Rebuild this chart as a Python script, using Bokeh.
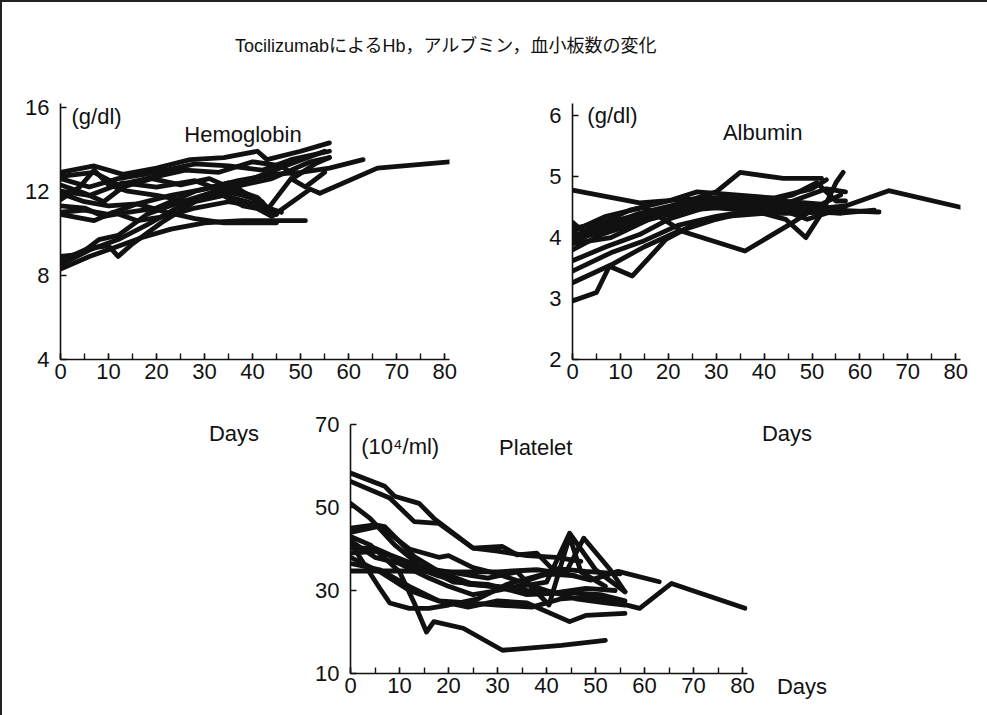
from bokeh.plotting import figure
from bokeh.models import Div, Label, Range1d, SingleIntervalTicker, FixedTicker
from bokeh.layouts import column, row
from bokeh.embed import file_html
from bokeh.resources import INLINE

TITLE = "TocilizumabによるHb，アルブミン，血小板数の変化"
X_NAME = "Days"

# ---------------- Hemoglobin (g/dl) ----------------
hb_days = [
    [0, 7, 11, 16, 22, 28, 35, 40, 44, 52, 54, 66, 81],
    [0, 7, 13, 20, 27, 34, 41, 43, 50, 56],
    [0, 6, 12, 20, 28, 35, 42, 48, 56],
    [0, 5, 10, 16, 23, 30, 37, 44, 50, 56, 63],
    [0, 6, 12, 18, 25, 32, 40, 48, 55],
    [0, 6, 11, 17, 23, 30, 38, 45, 51],
    [0, 4, 8, 12, 18, 24, 31, 38, 44, 52, 56],
    [0, 6, 10, 12, 15, 21, 28, 34, 42, 46],
    [0, 4, 7, 10, 14, 20, 27, 33, 38, 43, 48, 51, 55],
    [0, 5, 9, 13, 19, 25, 31, 36, 41, 44],
    [0, 5, 9, 14, 20, 28, 35, 40, 45],
    [0, 6, 13, 20, 28, 34, 38, 42],
    [0, 7, 12, 18, 26, 33, 40, 46, 49, 53, 56],
    [0, 5, 10, 16, 22, 28, 34, 40, 45],
]
hb_values = [
    [10.9, 10.6, 11.0, 10.6, 10.8, 11.2, 11.5, 11.3, 10.8, 12.1, 11.9, 13.1, 13.4],
    [12.9, 13.2, 12.8, 13.1, 13.5, 13.6, 13.9, 13.5, 13.9, 14.3],
    [12.6, 12.2, 12.6, 12.9, 13.3, 13.2, 13.0, 13.5, 13.9],
    [11.9, 11.5, 11.3, 11.4, 11.8, 12.1, 12.5, 12.8, 12.9, 13.1, 13.5],
    [8.5, 9.2, 9.7, 10.4, 11.3, 12.0, 12.6, 13.3, 13.9],
    [8.3, 8.9, 9.3, 9.8, 10.2, 10.5, 10.6, 10.6, 10.6],
    [8.9, 9.0, 9.7, 9.9, 10.9, 11.4, 11.9, 12.3, 12.6, 13.4, 13.6],
    [8.7, 9.3, 9.4, 8.9, 9.5, 10.5, 11.5, 11.8, 11.3, 11.0],
    [11.6, 12.2, 13.0, 12.3, 12.0, 11.8, 11.5, 11.9, 11.3, 11.1, 12.6, 12.2, 12.9],
    [12.3, 11.9, 11.5, 12.2, 12.6, 12.3, 12.6, 12.1, 11.7, 11.0],
    [11.3, 11.2, 10.8, 11.0, 11.2, 12.0, 12.4, 11.7, 10.9],
    [12.0, 11.8, 12.4, 12.2, 12.5, 12.0, 11.8, 11.5],
    [12.7, 12.9, 12.3, 12.6, 13.0, 12.9, 13.4, 13.2, 12.7, 13.3, 13.6],
    [11.0, 11.1, 10.9, 11.4, 11.0, 10.7, 10.5, 10.5, 10.5],
]
hb_yticks = [4, 8, 12, 16]

# ---------------- Albumin (g/dl) ----------------
alb_days = [
    [0, 14, 22, 30, 38, 46, 53],
    [0, 8, 16, 24, 32, 40, 48, 57, 66, 82],
    [0, 7, 14, 22, 30, 35, 44, 52],
    [0, 7, 15, 23, 36, 45, 50, 55],
    [0, 3, 10, 18, 26, 35, 44.5, 48.7, 52, 55, 56.5],
    [0, 5, 7.7, 12.5, 19.5, 25, 32, 40, 48, 57],
    [0, 8, 15, 22, 30, 38, 46, 53, 57],
    [0, 8, 15, 22, 30, 38, 46, 54, 64],
    [0, 7, 14, 20, 28, 36, 44, 52, 56],
    [0, 5, 12, 20, 26, 34, 42, 50, 53],
    [0, 6, 12, 20, 28, 36, 44, 50, 56],
    [0, 6, 12, 20, 28, 36, 44, 49, 55],
    [0, 7, 14, 22, 30, 38, 46, 51, 55, 57],
    [0, 8, 16, 24, 32, 40, 48, 56, 63],
]
alb_values = [
    [4.78, 4.57, 4.62, 4.65, 4.62, 4.55, 4.50],
    [3.95, 4.15, 4.35, 4.50, 4.55, 4.50, 4.45, 4.52, 4.77, 4.48],
    [3.90, 4.20, 4.40, 4.55, 4.75, 5.07, 4.97, 4.97],
    [4.10, 4.35, 4.50, 4.10, 3.78, 4.20, 4.45, 4.50],
    [4.25, 4.05, 4.30, 4.45, 4.60, 4.50, 4.30, 4.00, 4.40, 4.90, 5.07],
    [2.96, 3.10, 3.53, 3.37, 3.97, 4.20, 4.35, 4.40, 4.40, 4.45],
    [3.26, 3.55, 3.85, 4.10, 4.30, 4.45, 4.60, 4.80, 4.75],
    [3.45, 3.75, 3.95, 4.20, 4.35, 4.45, 4.50, 4.45, 4.42],
    [3.62, 3.85, 4.05, 4.30, 4.50, 4.60, 4.60, 4.55, 4.70],
    [4.00, 4.20, 4.45, 4.60, 4.75, 4.70, 4.65, 4.80, 4.95],
    [4.05, 4.10, 4.30, 4.45, 4.50, 4.45, 4.40, 4.42, 4.40],
    [3.80, 4.05, 4.20, 4.40, 4.55, 4.50, 4.45, 4.30, 4.45],
    [4.15, 4.25, 4.35, 4.50, 4.60, 4.55, 4.70, 4.90, 4.60, 4.60],
    [3.90, 4.00, 4.30, 4.45, 4.50, 4.55, 4.45, 4.40, 4.45],
]
alb_yticks = [2, 3, 4, 5, 6]

# ---------------- Platelet (10^4/ml) ----------------
plt_days = [
    [0, 7, 9, 14, 17, 25, 31, 34, 38, 41, 48, 55],
    [0, 8, 13, 18, 25, 30, 36, 42, 47],
    [0, 4, 9, 14, 21, 28, 36, 45, 51, 56],
    [0, 5, 7, 13, 18, 25, 32, 40, 44.7, 50, 56],
    [0, 5, 8, 15, 20, 28, 34, 40.5, 44.7, 47, 52],
    [0, 6, 8, 12, 16, 20, 26, 32, 38, 44, 47.6, 53, 56],
    [0, 4, 10, 13, 15.5, 17, 23, 31, 43, 52],
    [0, 6, 12, 18, 24, 30, 37, 43, 49, 54.6, 59, 65.5, 80.5],
    [0, 10, 20, 30, 38, 44, 49, 54.6, 63],
    [0, 6, 12, 18, 24, 30, 36, 44.7, 48, 56],
    [0, 5, 10, 16, 20, 25, 30, 36, 40, 46, 52, 56],
    [0, 6, 12, 18, 24, 30, 36, 42, 48, 54],
    [0, 6, 12, 18, 20, 25, 30, 35, 40, 46],
]
plt_values = [
    [58.3, 55.1, 52.7, 51.0, 47.4, 40.2, 40.6, 38.6, 39.0, 35.4, 34.6, 34.0],
    [56.3, 52.3, 46.6, 46.2, 40.2, 39.5, 38.4, 38.0, 37.0],
    [51.0, 47.4, 41.0, 36.2, 32.0, 31.5, 29.0, 29.5, 29.0, 27.5],
    [45.0, 45.8, 45.4, 38.2, 34.6, 31.5, 30.5, 32.0, 43.8, 35.0, 29.7],
    [40.2, 40.2, 38.6, 35.4, 34.5, 33.0, 34.5, 26.5, 43.0, 34.5, 31.0],
    [41.5, 30.5, 27.0, 25.7, 25.7, 26.5, 28.0, 31.5, 33.5, 34.5, 42.6, 35.0, 29.7],
    [43.0, 41.0, 34.5, 27.0, 20.0, 22.5, 20.9, 15.6, 16.8, 18.0],
    [38.0, 34.5, 30.0, 27.5, 27.0, 26.5, 26.0, 28.0, 28.5, 27.0, 25.7, 31.7, 25.7],
    [34.7, 34.7, 34.5, 34.5, 35.0, 34.0, 32.5, 34.6, 32.1],
    [36.5, 35.0, 31.0, 27.5, 26.0, 27.5, 27.0, 22.5, 24.0, 24.5],
    [42.0, 38.0, 36.5, 33.0, 31.0, 29.0, 30.0, 31.5, 30.0, 28.0, 27.0, 26.5],
    [39.0, 39.5, 36.0, 33.5, 31.5, 31.0, 30.0, 29.5, 30.5, 30.0],
    [44.0, 45.5, 40.0, 38.0, 38.4, 35.5, 34.0, 32.0, 34.0, 33.5],
]
plt_yticks = [10, 30, 50, 70]

FONT = "Liberation Sans"
INK = "#111111"
CSS_FONT = "font-family:'Liberation Sans',sans-serif;font-size:22px;color:#111;"


def style(p, yticks):
    p.xgrid.visible = False
    p.ygrid.visible = False
    p.outline_line_color = None
    p.background_fill_color = "white"
    p.border_fill_color = "white"
    p.xaxis.ticker = SingleIntervalTicker(interval=10, num_minor_ticks=2)
    p.yaxis.ticker = FixedTicker(ticks=yticks)
    for ax in (p.xaxis, p.yaxis):
        ax.axis_line_color = INK
        ax.axis_line_width = 1.6
        ax.major_tick_line_color = INK
        ax.major_tick_line_width = 1.4
        ax.major_tick_in = 6
        ax.major_tick_out = 0
        ax.minor_tick_line_color = INK
        ax.minor_tick_line_width = 1.4
        ax.minor_tick_in = 6
        ax.minor_tick_out = 0
        ax.major_label_text_font = FONT
        ax.major_label_text_font_size = "22px"
        ax.major_label_text_color = INK
    p.yaxis.minor_tick_line_color = None
    p.xaxis.major_label_standoff = 4
    p.yaxis.major_label_standoff = 11


def draw(p, days, vals):
    for d, v in zip(days, vals):
        p.line(d, v, line_color=INK, line_width=4.8, line_join="round", line_cap="round")


def lab(p, x, y, text, align="left", size="22px"):
    p.add_layout(Label(x=x, y=y, text=text, text_font=FONT, text_font_size=size,
                       text_color=INK, text_align=align, text_baseline="middle"))


common = dict(output_backend="svg", toolbar_location=None, title=None)

p_hb = figure(width=498, height=330, x_range=Range1d(0, 81), y_range=Range1d(4, 16.17),
              min_border_left=58, min_border_right=51, min_border_top=31, min_border_bottom=41,
              **common)
style(p_hb, hb_yticks)
draw(p_hb, hb_days, hb_values)
lab(p_hb, 2.3, 15.55, "(g/dl)")
lab(p_hb, 38, 14.7, "Hemoglobin", align="center")

p_alb = figure(width=469, height=330, x_range=Range1d(0, 81), y_range=Range1d(2, 6.2),
               min_border_left=72, min_border_right=9, min_border_top=33, min_border_bottom=41,
               **common)
style(p_alb, alb_yticks)
draw(p_alb, alb_days, alb_values)
lab(p_alb, 3.1, 6.0, "(g/dl)")
lab(p_alb, 39.7, 5.72, "Albumin", align="center")

p_plt = figure(width=453, height=309, x_range=Range1d(0, 81), y_range=Range1d(10, 70),
               min_border_left=48, min_border_right=8, min_border_top=24, min_border_bottom=36,
               **common)
style(p_plt, plt_yticks)
draw(p_plt, plt_days, plt_values)
lab(p_plt, 2.2, 64.7, "(10⁴/ml)")
lab(p_plt, 37.8, 64.5, "Platelet", align="center")


def days_div(width, height, spots):
    spans = "".join(
        f'<span style="position:absolute;left:{cx}px;top:{cy}px;transform:translate(-50%,-50%);'
        f'white-space:nowrap;{CSS_FONT}">{X_NAME}</span>' for cx, cy in spots)
    return Div(text=f'<div style="position:relative;width:{width}px;height:{height}px;">{spans}</div>',
               width=width, height=height)


div_left = days_div(290, 309, [(227, 29)])
div_right = days_div(226, 309, [(27, 29), (42, 282)])

title = Div(
    text=f'<div style="font-family:\'Liberation Sans\',\'Noto Sans CJK JP\',sans-serif;'
         f'font-size:18px;color:#111;padding-top:27px;padding-left:228px;white-space:nowrap;">{TITLE}</div>',
    width=969, height=58)

layout = column(title, row(p_hb, p_alb), row(div_left, p_plt, div_right),
                styles={"border-left": "2px solid #222", "border-top": "2px solid #222"})

open("out.html", "w").write(file_html(layout, INLINE))
